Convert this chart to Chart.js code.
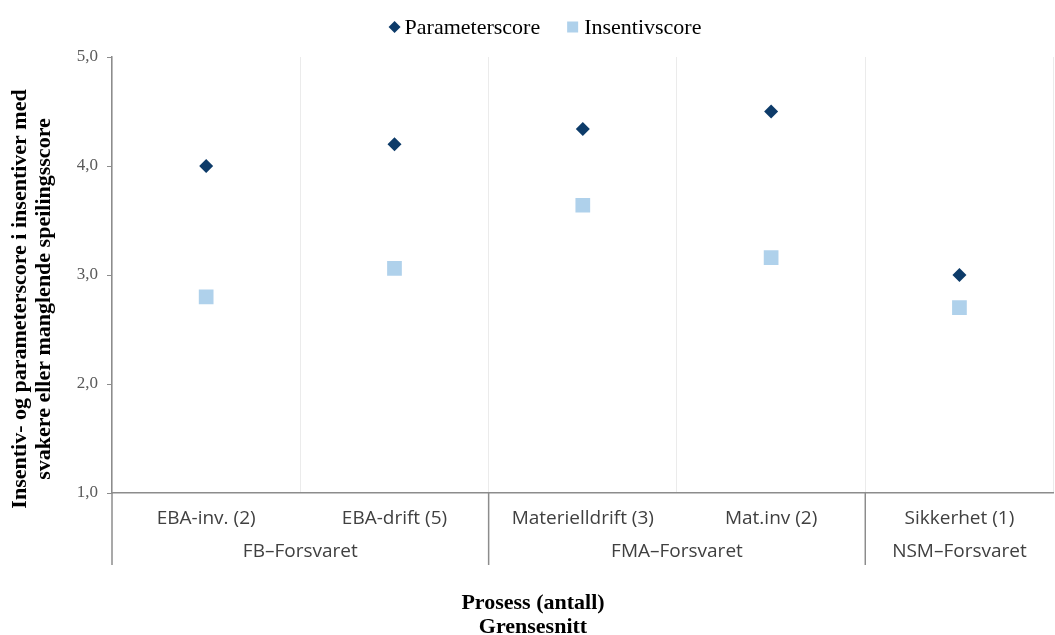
<!DOCTYPE html>
<html lang="no">
<head>
<meta charset="UTF-8">
<title>Parameterscore og insentivscore</title>
<script src="https://cdn.jsdelivr.net/npm/chart.js"></script>
<style>
  html, body { margin: 0; padding: 0; background: #fff; overflow: hidden; }
  #boks { position: relative; width: 1064px; height: 635px; }
</style>
</head>
<body>
<div id="boks"><canvas id="grafCanvas"></canvas></div>
<script>
  // prosesser (kategorier) og grensesnitt
  const prosesser = ['EBA-inv. (2)', 'EBA-drift (5)', 'Materielldrift (3)', 'Mat.inv (2)', 'Sikkerhet (1)'];
  const grensesnitt = ['FB–Forsvaret', 'FMA–Forsvaret', 'NSM–Forsvaret'];
  const antallPerGrensesnitt = [2, 2, 1];

  // verdier lest av figuren
  const parameterscore = [4.0, 4.2, 4.34, 4.5, 3.0];
  const insentivscore = [2.8, 3.06, 3.64, 3.16, 2.7];

  const yMin = 1, yMax = 5, ySteg = 1;
  const xTittel = ['Prosess (antall)', 'Grensesnitt'];
  const yTittel = ['Insentiv- og parameterscore i insentiver med', 'svakere eller manglende speilingsscore'];

  const aksefarge = '#8c8c8c';
  const tekstfarge = '#404040';
  const kategoriFont = '"Open Sans"';
  const serifFont = '"Liberation Serif"';

  // forklaring øverst (diamant + kvadrat)
  const forklaring = {
    id: 'forklaring',
    afterDraw(chart) {
      const ctx = chart.ctx;
      const ds = chart.data.datasets;
      const y = 27;
      ctx.save();
      ctx.font = '22px ' + serifFont;
      ctx.textBaseline = 'middle';
      ctx.textAlign = 'left';
      const b0 = ctx.measureText(ds[0].label).width;
      const b1 = ctx.measureText(ds[1].label).width;
      const total = 12 + 4 + b0 + 27 + 11 + 6 + b1;
      let x = 545 - total / 2;

      ctx.fillStyle = ds[0].backgroundColor;
      ctx.beginPath();
      ctx.moveTo(x, y);
      ctx.lineTo(x + 6, y - 6);
      ctx.lineTo(x + 12, y);
      ctx.lineTo(x + 6, y + 6);
      ctx.closePath();
      ctx.fill();
      x += 16;
      ctx.fillStyle = '#000';
      ctx.fillText(ds[0].label, x, y + 1);
      x += b0 + 27;

      ctx.fillStyle = ds[1].backgroundColor;
      ctx.fillRect(x, y - 5.5, 11, 11);
      x += 17;
      ctx.fillStyle = '#000';
      ctx.fillText(ds[1].label, x, y + 1);
      ctx.restore();
    }
  };

  // tegner grensesnitt-rad, skillelinjer og aksetitler
  const ekstra = {
    id: 'ekstra',
    afterDraw(chart) {
      const ctx = chart.ctx;
      const area = chart.chartArea;
      const x = chart.scales.x;
      const bunn = area.bottom + 72;

      ctx.save();
      ctx.strokeStyle = aksefarge;
      ctx.lineWidth = 1.5;
      ctx.beginPath();
      ctx.moveTo(area.left, area.bottom);
      ctx.lineTo(area.left, bunn);
      ctx.stroke();

      ctx.font = '19px ' + kategoriFont;
      ctx.fillStyle = tekstfarge;
      ctx.textAlign = 'center';
      ctx.textBaseline = 'middle';
      let start = 0;
      antallPerGrensesnitt.forEach(function (n, i) {
        const slutt = start + n;
        const midt = x.getPixelForValue((start + slutt - 1) / 2);
        ctx.fillText(grensesnitt[i], midt, area.bottom + 59);
        if (slutt < prosesser.length) {
          const sx = x.getPixelForValue(slutt - 0.5);
          ctx.beginPath();
          ctx.moveTo(sx, area.bottom);
          ctx.lineTo(sx, bunn);
          ctx.stroke();
        }
        start = slutt;
      });

      // x-aksetittel
      ctx.font = 'bold 22px ' + serifFont;
      ctx.fillStyle = '#000';
      ctx.fillText(xTittel[0], 533, 603);
      ctx.fillText(xTittel[1], 533, 627);

      // y-aksetittel
      ctx.translate(0, 299);
      ctx.rotate(-Math.PI / 2);
      ctx.fillText(yTittel[0], 0, 20);
      ctx.fillText(yTittel[1], 0, 44);
      ctx.restore();
    }
  };

  const config = {
    type: 'line',
    data: {
      labels: prosesser,
      datasets: [{
        label: 'Parameterscore',
        data: parameterscore,
        showLine: false,
        pointStyle: 'rectRot',
        pointRadius: 7,
        pointHoverRadius: 7,
        backgroundColor: '#0d3b69',
        borderColor: '#0d3b69',
        borderWidth: 0
      }, {
        label: 'Insentivscore',
        data: insentivscore,
        showLine: false,
        pointStyle: 'rect',
        pointRadius: 10.4,
        pointHoverRadius: 10.4,
        backgroundColor: '#afd1eb',
        borderColor: '#afd1eb',
        borderWidth: 0
      }]
    },
    options: {
      responsive: true,
      maintainAspectRatio: false,
      animation: false,
      layout: { padding: { top: 57, left: 0, right: 0, bottom: 0 } },
      plugins: {
        tooltip: { enabled: false },
        legend: { display: false }
      },
      scales: {
        x: {
          offset: true,
          afterFit: function (scale) { scale.height = 142; },
          grid: { offset: true, color: '#ebebeb', drawTicks: false },
          border: { color: aksefarge, width: 1.5 },
          ticks: {
            color: tekstfarge,
            padding: 14,
            maxRotation: 0,
            font: { family: kategoriFont, size: 19 }
          }
        },
        y: {
          min: yMin,
          max: yMax,
          afterFit: function (scale) { scale.width = 112; },
          grid: { drawOnChartArea: false, drawTicks: true, tickLength: 5, color: aksefarge },
          border: { color: aksefarge, width: 1.5 },
          ticks: {
            stepSize: ySteg,
            color: '#595959',
            padding: 9,
            font: { family: serifFont, size: 17 },
            callback: function (v) { return v.toFixed(1).replace('.', ','); }
          }
        }
      }
    },
    plugins: [forklaring, ekstra]
  };

  new Chart(document.getElementById('grafCanvas'), config);
</script>
</body>
</html>
